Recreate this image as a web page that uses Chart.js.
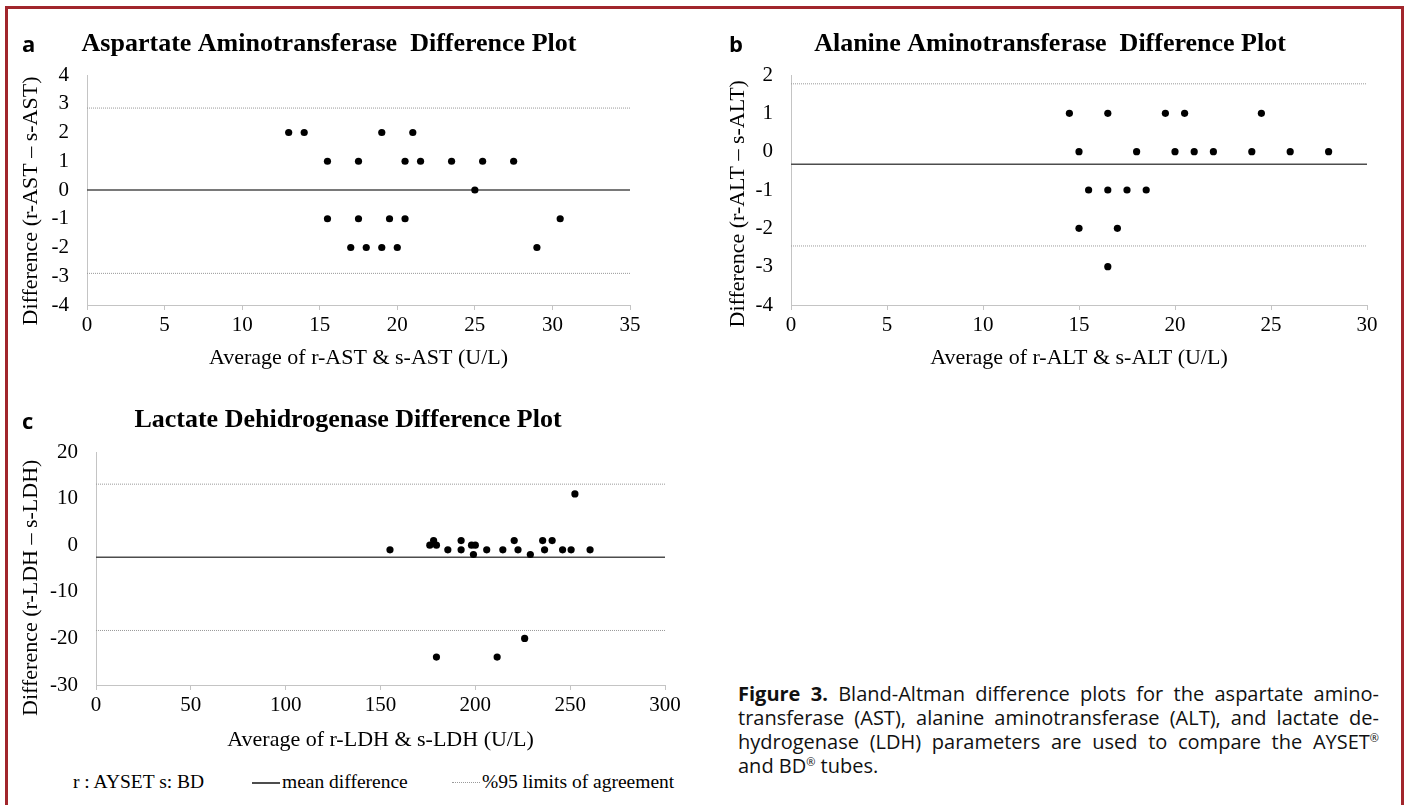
<!DOCTYPE html>
<html>
<head>
<meta charset="utf-8">
<script src="https://cdn.jsdelivr.net/npm/chart.js@4.4.1/dist/chart.umd.min.js"></script>
<style>
  html, body { margin: 0; padding: 0; background: #fff; }
  body { width: 1409px; height: 805px; overflow: hidden; position: relative; font-family: "Liberation Serif", "Times New Roman", serif; color: #000; }
  .frame { position: absolute; left: 5px; top: 6px; width: 1393px; height: 840px; border: 3px solid #a1262c; box-sizing: content-box; }
  canvas { position: absolute; }
  .plet { position: absolute; font-family: "Open Sans", "Noto Sans", sans-serif; font-weight: 700; font-size: 22px; line-height: 22px; }
  .caption { position: absolute; left: 738px; top: 682px; width: 641px; font-family: "Open Sans", "Noto Sans", sans-serif; font-size: 20px; line-height: 24px; color: #111; }
  .caption div { white-space: nowrap; }
  .caption .j { text-align: justify; text-align-last: justify; }
  .caption sup { font-size: 11px; vertical-align: 7px; line-height: 0; }
  .leg { position: absolute; top: 770px; font-family: "Liberation Serif", serif; font-size: 19.5px; line-height: 24px; white-space: nowrap; }
  .legline { position: absolute; top: 782px; height: 0; }
</style>
</head>
<body>
<div class="frame"></div>

<canvas id="chartA" width="700" height="380" style="left:0px;top:0px;"></canvas>
<canvas id="chartB" width="709" height="380" style="left:700px;top:0px;"></canvas>
<canvas id="chartC" width="700" height="380" style="left:0px;top:380px;"></canvas>

<div class="plet" style="left:22px;top:32px;">a</div>
<div class="plet" style="left:729px;top:32px;">b</div>
<div class="plet" style="left:22px;top:409px;">c</div>

<div class="leg" style="left:73px;">r : AYSET s: BD</div>
<div class="legline" style="left:252px;width:28px;border-top:2px solid #4d4d4d;"></div>
<div class="leg" style="left:282px;">mean difference</div>
<div class="legline" style="left:452px;width:28px;border-top:1px dotted #9a9a9a;"></div>
<div class="leg" style="left:482px;">%95 limits of agreement</div>

<div class="caption">
  <div class="j"><b>Figure 3.</b> Bland-Altman difference plots for the aspartate amino-</div>
  <div class="j">transferase (AST), alanine aminotransferase (ALT), and lactate de-</div>
  <div class="j">hydrogenase (LDH) parameters are used to compare the AYSET<sup>®</sup></div>
  <div>and BD<sup>®</sup> tubes.</div>
</div>

<script>
// ---------- DATA ----------
// (a) Aspartate aminotransferase
const astAvg  = [13, 14, 19, 21, 15.5, 17.5, 20.5, 21.5, 23.5, 25.5, 27.5, 25, 15.5, 17.5, 19.5, 20.5, 30.5, 17, 18, 19, 20, 29];
const astDiff = [2, 2, 2, 2, 1, 1, 1, 1, 1, 1, 1, 0, -1, -1, -1, -1, -1, -2, -2, -2, -2, -2];
const astMean = 0;
const astLimits = [2.85, -2.9];

// (b) Alanine aminotransferase
const altAvg  = [14.5, 16.5, 19.5, 20.5, 24.5, 15, 18, 20, 21, 22, 24, 26, 28, 15.5, 16.5, 17.5, 18.5, 15, 17, 16.5];
const altDiff = [1, 1, 1, 1, 1, 0, 0, 0, 0, 0, 0, 0, 0, -1, -1, -1, -1, -2, -2, -3];
const altMean = -0.33;
const altLimits = [1.77, -2.46];

// (c) Lactate dehydrogenase
const ldhAvg  = [155, 176, 178, 179.5, 185.5, 192.5, 192.5, 198, 200, 199, 206, 214.5, 220.5, 222.5, 229, 235.5, 236.5, 240.5, 246, 250.5, 260.5, 252.5, 226, 179.5, 211.5];
const ldhDiff = [-1, 0, 1, 0, -1, 1, -1, 0, 0, -2, -1, -1, 1, -1, -2, 1, -1, 1, -1, -1, -1, 11, -20, -24, -24];
const ldhMean = -2.6;
const ldhLimits = [13.1, -18.3];

// axis ranges [min, max, step]
const astXRange = [0, 35, 5];
const astYRange = [-4, 4, 1];
const altXRange = [0, 30, 5];
const altYRange = [-4, 2, 1];
const ldhXRange = [0, 300, 50];
const ldhYRange = [-30, 20, 10];

// texts
const panelTitles = [
  "Aspartate Aminotransferase  Difference Plot",
  "Alanine Aminotransferase  Difference Plot",
  "Lactate Dehidrogenase Difference Plot"
];
const xTitles = [
  "Average of r-AST & s-AST (U/L)",
  "Average of r-ALT & s-ALT (U/L)",
  "Average of r-LDH & s-LDH (U/L)"
];
const yTitles = [
  "Difference (r-AST \u2013 s-AST)",
  "Difference (r-ALT \u2013 s-ALT)",
  "Difference (r-LDH \u2013 s-LDH)"
];

// ---------- CHARTS ----------
const SERIF = "'Liberation Serif', 'Times New Roman', serif";
const AXIS_COLOR = '#c4c4c4';

function build(canvasId, o) {
  const pts = o.x.map((v, i) => ({ x: v, y: o.y[i] }));
  const hline = (val) => [{ x: o.xr[0], y: val }, { x: o.xr[1], y: val }];
  new Chart(document.getElementById(canvasId), {
    type: 'scatter',
    data: {
      datasets: [
        { label: 'values', data: pts, backgroundColor: '#000', borderColor: '#000', borderWidth: 0,
          pointRadius: 3.6, pointHoverRadius: 3.6, order: 0 },
        { type: 'line', label: 'mean difference', data: hline(o.mean), borderColor: '#4d4d4d', borderWidth: 1.6,
          pointRadius: 0, fill: false, order: 1 },
        { type: 'line', label: 'upper limit', data: hline(o.lim[0]), borderColor: '#9a9a9a', borderWidth: 1,
          borderDash: [1, 1], pointRadius: 0, fill: false, order: 2 },
        { type: 'line', label: 'lower limit', data: hline(o.lim[1]), borderColor: '#9a9a9a', borderWidth: 1,
          borderDash: [1, 1], pointRadius: 0, fill: false, order: 2 }
      ]
    },
    options: {
      responsive: false, animation: false, devicePixelRatio: 1,
      events: [],
      layout: { padding: { left: o.padL, right: o.padR, top: 0, bottom: 0 } },
      plugins: {
        legend: { display: false },
        tooltip: { enabled: false },
        title: { display: true, text: o.title, color: '#000',
          font: { family: SERIF, size: 26, weight: 'bold', lineHeight: 1.2 },
          padding: { top: o.tTop, bottom: o.tBot } }
      },
      scales: {
        x: {
          type: 'linear', min: o.xr[0], max: o.xr[1],
          ticks: { stepSize: o.xr[2], color: '#000', padding: 3, font: { family: SERIF, size: 21 } },
          grid: { display: true, drawOnChartArea: false, drawTicks: true, tickLength: 5, color: AXIS_COLOR },
          border: { display: true, color: AXIS_COLOR, width: 1 },
          title: { display: true, text: o.xTitle, color: '#000', font: { family: SERIF, size: 22, lineHeight: 1.2 },
            padding: { top: 0, bottom: o.xtPad } },
          afterFit: (s) => { s.height = o.xH; }
        },
        y: {
          type: 'linear', min: o.yr[0], max: o.yr[1],
          ticks: { stepSize: o.yr[2], color: '#000', padding: 18, font: { family: SERIF, size: 21 } },
          grid: { display: true, drawOnChartArea: false, drawTicks: false, color: AXIS_COLOR },
          border: { display: true, color: AXIS_COLOR, width: 1 },
          title: { display: true, text: o.yTitle, color: '#000', font: { family: SERIF, size: 22, lineHeight: 1.2 },
            padding: { top: o.ytPad, bottom: 0 } },
          afterFit: (s) => { s.width = o.yW; }
        }
      }
    }
  });
}

build('chartA', {
  x: astAvg, y: astDiff, mean: astMean, lim: astLimits, xr: astXRange, yr: astYRange,
  title: panelTitles[0], xTitle: xTitles[0], yTitle: yTitles[0] + '\u00a0\u00a0\u00a0\u00a0',
  padL: 28, padR: 70, tTop: 28.4, tBot: 15.4, yW: 59, xH: 75, xtPad: 8.8, ytPad: -10.2
});
build('chartB', {
  x: altAvg, y: altDiff, mean: altMean, lim: altLimits, xr: altXRange, yr: altYRange,
  title: panelTitles[1], xTitle: xTitles[1], yTitle: yTitles[1] + '\u00a0\u00a0\u00a0\u00a0\u00a0',
  padL: 33, padR: 42, tTop: 28.4, tBot: 15.4, yW: 58, xH: 75, xtPad: 8.8, ytPad: -8.2
});
build('chartC', {
  x: ldhAvg, y: ldhDiff, mean: ldhMean, lim: ldhLimits, xr: ldhXRange, yr: ldhYRange,
  title: panelTitles[2], xTitle: xTitles[2], yTitle: yTitles[2] + '\u00a0\u00a0\u00a0\u00a0\u00a0\u00a0\u00a0',
  padL: 31, padR: 35, tTop: 24.4, tBot: 16.4, yW: 65, xH: 75, xtPad: 6.8, ytPad: -13.2
});
</script>
</body>
</html>
